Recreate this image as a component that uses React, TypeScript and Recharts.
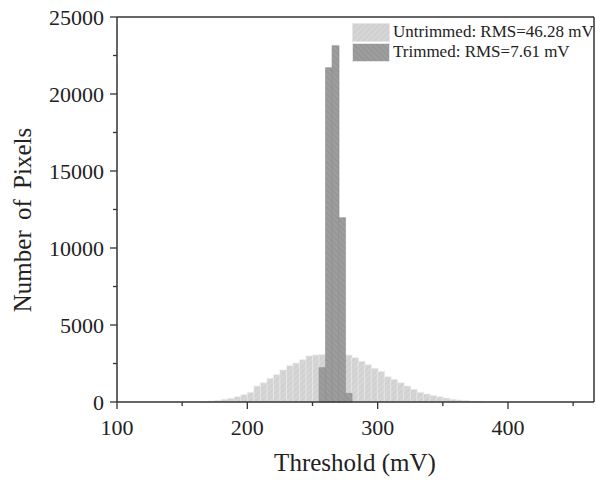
import React from 'react';
import { ComposedChart, Bar, XAxis, YAxis, ReferenceLine } from 'recharts';

// left edge of each 5 mV threshold bin
const binStart = [
  165, 170, 175, 180, 185, 190, 195, 200, 205, 210, 215, 220, 225, 230, 235,
  240, 245, 250, 255, 260, 265, 270, 275, 280, 285, 290, 295, 300, 305, 310,
  315, 320, 325, 330, 335, 340, 345, 350, 355, 360, 365, 370, 375,
];
const untrimmedCounts = [
  30, 65, 110, 175, 240, 345, 474, 630, 1040, 1250, 1540, 1770, 2080, 2360, 2530,
  2750, 2990, 3050, 3080, 3100, 3100, 3080, 3050, 2880, 2640, 2420, 2190, 1990, 1640, 1470,
  1250, 1040, 820, 630, 520, 420, 340, 260, 175, 130, 100, 60, 40,
];
const trimmedBins = [255, 260, 265, 270, 275];
const trimmedCounts = [2230, 21710, 23140, 11970, 565];

const xMajor = [100, 200, 300, 400];
const xMinor = [150, 250, 350, 450];
const yMajor = [0, 5000, 10000, 15000, 20000, 25000];
const yMinor = [2500, 7500, 12500, 17500, 22500];

const legendItems = [
  { name: 'Untrimmed: RMS=46.28 mV', fill: '#d6d6d6', line: '#c4c4c4', angle: 45 },
  { name: 'Trimmed: RMS=7.61 mV', fill: '#9d9d9d', line: '#8a8a8a', angle: -45 },
];

const data = binStart.map((b, i) => {
  const t = trimmedBins.indexOf(b);
  return { x: b + 2.5, untrimmed: untrimmedCounts[i], trimmed: t >= 0 ? trimmedCounts[t] : null };
});

const FONT = '"Liberation Serif", "Times New Roman", serif';
const AXIS = '#333';

const XTick = (props: any) => {
  const { x, y, payload } = props;
  const major = xMajor.includes(payload.value);
  const axisY = y - 17;
  return (
    <g>
      <line x1={x} x2={x} y1={axisY} y2={axisY + (major ? 7 : 4)} stroke={AXIS} strokeWidth={1.3} />
      {major && (
        <text x={x} y={axisY + 32.5} textAnchor="middle" fontFamily={FONT} fontSize={22} fill="#222">
          {payload.value}
        </text>
      )}
    </g>
  );
};

const YTick = (props: any) => {
  const { x, y, payload } = props;
  const major = yMajor.includes(payload.value);
  const axisX = x + 13;
  return (
    <g>
      <line x1={axisX - (major ? 7 : 4)} x2={axisX} y1={y} y2={y} stroke={AXIS} strokeWidth={1.3} />
      {major && (
        <text x={x} y={y + 7.5} textAnchor="end" fontFamily={FONT} fontSize={22} fill="#222">
          {payload.value}
        </text>
      )}
    </g>
  );
};

const LegendBox = () => (
  <div
    style={{
      position: 'absolute',
      left: 352,
      top: 22,
      fontFamily: FONT,
      fontSize: 17,
      color: '#222',
      lineHeight: '20px',
    }}
  >
    {legendItems.map((it, i) => (
      <div key={i} style={{ display: 'flex', alignItems: 'center', height: 20, whiteSpace: 'nowrap' }}>
        <svg width={38} height={19} style={{ marginRight: 3 }}>
          <defs>
            <pattern id={`lg${i}`} patternUnits="userSpaceOnUse" width={4} height={4} patternTransform={`rotate(${it.angle})`}>
              <rect width={4} height={4} fill={it.fill} />
              <line x1={0} y1={0} x2={0} y2={4} stroke={it.line} strokeWidth={1.2} />
            </pattern>
          </defs>
          <rect x={0.5} y={0.5} width={37} height={18} fill={`url(#lg${i})`} stroke="#e6e6e6" />
        </svg>
        <span>{it.name}</span>
      </div>
    ))}
  </div>
);

export default function App() {
  return (
    <div style={{ position: 'absolute', left: 0, top: 0, width: 596, height: 480, background: '#fff' }}>
      <ComposedChart width={596} height={480} data={data} margin={{ top: 17, right: 2, left: 0, bottom: 0 }} barCategoryGap={0}>
        <defs>
          <pattern id="hatchU" patternUnits="userSpaceOnUse" width={4} height={4} patternTransform="rotate(45)">
            <rect width={4} height={4} fill="#d6d6d6" />
            <line x1={0} y1={0} x2={0} y2={4} stroke="#c8c8c8" strokeWidth={1.2} />
          </pattern>
          <pattern id="hatchT" patternUnits="userSpaceOnUse" width={4} height={4} patternTransform="rotate(-45)">
            <rect width={4} height={4} fill="#9d9d9d" />
            <line x1={0} y1={0} x2={0} y2={4} stroke="#8b8b8b" strokeWidth={1.2} />
          </pattern>
        </defs>
        <XAxis
          xAxisId="u"
          dataKey="x"
          type="number"
          domain={[100, 466]}
          ticks={[...xMajor, ...xMinor].sort((a, b) => a - b)}
          interval={0}
          allowDataOverflow
          height={78}
          tickSize={7}
          tickMargin={10}
          tickLine={false}
          tick={<XTick />}
          axisLine={{ stroke: AXIS, strokeWidth: 1.5 }}
        />
        <XAxis xAxisId="t" dataKey="x" type="number" domain={[100, 466]} allowDataOverflow hide height={0} />
        <YAxis
          type="number"
          domain={[0, 25000]}
          ticks={[...yMajor, ...yMinor].sort((a, b) => a - b)}
          interval={0}
          width={117}
          tickSize={7}
          tickMargin={6}
          tickLine={false}
          tick={<YTick />}
          axisLine={{ stroke: AXIS, strokeWidth: 1.5 }}
        />
        <Bar xAxisId="u" dataKey="untrimmed" fill="url(#hatchU)" stroke="#efefef" strokeWidth={0.6} isAnimationActive={false} />
        <Bar xAxisId="t" dataKey="trimmed" fill="url(#hatchT)" stroke="#8e8e8e" strokeWidth={0.6} isAnimationActive={false} />
        <ReferenceLine xAxisId="u" y={25000} stroke={AXIS} strokeWidth={1.5} />
        <ReferenceLine xAxisId="u" x={466} stroke={AXIS} strokeWidth={1.5} />
        <text x={355} y={471} textAnchor="middle" fontFamily={FONT} fontSize={25} fill="#222">
          Threshold (mV)
        </text>
        <text
          x={31}
          y={220}
          textAnchor="middle"
          transform="rotate(-90 31 220)"
          fontFamily={FONT}
          fontSize={25}
          fill="#222"
          style={{ wordSpacing: 4 }}
        >
          Number of Pixels
        </text>
      </ComposedChart>
      <LegendBox />
    </div>
  );
}
